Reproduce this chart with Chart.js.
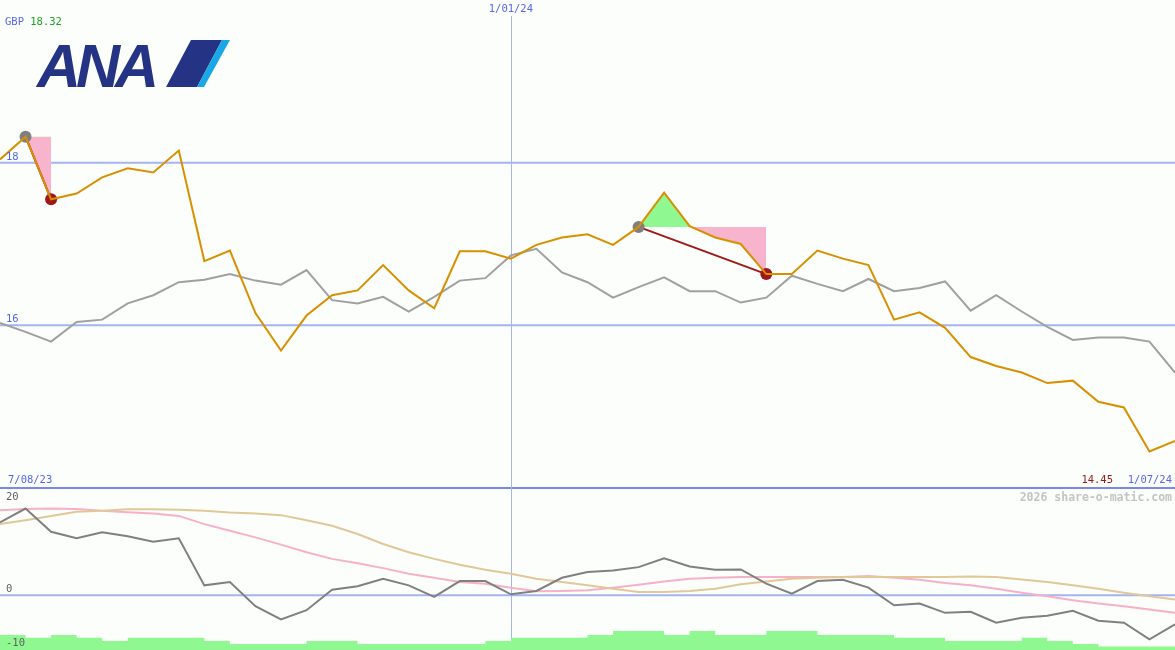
<!DOCTYPE html>
<html>
<head>
<meta charset="utf-8">
<title>ANA</title>
<script src="https://cdn.jsdelivr.net/npm/chart.js@4.4.1/dist/chart.umd.min.js"></script>
<style>
  html, body { margin: 0; padding: 0; background: #fbfefb; }
  #wrap { position: relative; width: 1175px; height: 650px; }
</style>
</head>
<body>
<div id="wrap"><canvas id="chart" width="1175" height="650"></canvas></div>
<script>
// weekly closes, GBP
const dateLabels = ['7/08/23', '14/08/23', '21/08/23', '28/08/23', '4/09/23', '11/09/23', '18/09/23', '25/09/23',
  '2/10/23', '9/10/23', '16/10/23', '23/10/23', '30/10/23', '6/11/23', '13/11/23', '20/11/23', '27/11/23',
  '4/12/23', '11/12/23', '18/12/23', '1/01/24', '8/01/24', '15/01/24', '22/01/24', '29/01/24', '5/02/24',
  '12/02/24', '19/02/24', '26/02/24', '4/03/24', '11/03/24', '18/03/24', '25/03/24', '1/04/24', '8/04/24',
  '15/04/24', '22/04/24', '29/04/24', '6/05/24', '13/05/24', '20/05/24', '27/05/24', '3/06/24', '10/06/24',
  '17/06/24', '24/06/24', '1/07/24'];

const prices = [18.04, 18.32, 17.55, 17.62, 17.82, 17.93, 17.88, 18.15, 16.79, 16.92,
  16.15, 15.69, 16.12, 16.37, 16.43, 16.74, 16.43, 16.21, 16.91, 16.91,
  16.82, 16.99, 17.08, 17.12, 16.99, 17.21, 17.63, 17.22, 17.08, 17.00,
  16.63, 16.63, 16.92, 16.82, 16.74, 16.07, 16.16, 15.97, 15.61, 15.50,
  15.42, 15.29, 15.32, 15.06, 14.99, 14.45, 14.58];

const indexLine = [16.03, 15.92, 15.80, 16.04, 16.07, 16.27, 16.37, 16.53, 16.56, 16.63,
  16.55, 16.50, 16.68, 16.31, 16.27, 16.35, 16.17, 16.35, 16.55, 16.58,
  16.86, 16.94, 16.65, 16.53, 16.34, 16.47, 16.59, 16.42, 16.42, 16.28,
  16.34, 16.61, 16.51, 16.42, 16.57, 16.42, 16.46, 16.54, 16.18, 16.37,
  16.17, 15.98, 15.82, 15.85, 15.85, 15.80, 15.42];

const momentum = [13.58, 16.17, 11.85, 10.62, 11.73, 10.99, 10.0, 10.62, 1.85, 2.47,
  -2.04, -4.5, -2.78, 1.05, 1.67, 3.09, 1.85, -0.31, 2.65, 2.65,
  0.19, 0.8, 3.27, 4.32, 4.63, 5.25, 6.91, 5.37, 4.75, 4.81,
  2.16, 0.31, 2.65, 2.9, 1.42, -1.85, -1.54, -3.27, -3.09, -5.12,
  -4.2, -3.83, -2.9, -4.75, -5.12, -8.2, -5.43];

const momentumAvgShort = [15.87, 16.1, 16.2, 16.1, 15.74, 15.5, 15.25, 14.8, 13.27, 12.04,
  10.8, 9.44, 8.02, 6.79, 5.99, 5.06, 4.0, 3.27, 2.47, 2.16,
  1.42, 0.74, 0.8, 0.93, 1.42, 1.98, 2.59, 3.09, 3.27, 3.4,
  3.4, 3.4, 3.4, 3.4, 3.58, 3.27, 2.9, 2.28, 1.85, 1.23,
  0.49, -0.19, -0.93, -1.54, -2.04, -2.65, -3.27];

const momentumAvgLong = [13.27, 14.0, 14.8, 15.55, 15.74, 16.05, 16.05, 15.93, 15.74, 15.43,
  15.25, 14.94, 14.0, 12.96, 11.42, 9.57, 8.02, 6.79, 5.68, 4.75,
  4.0, 3.09, 2.47, 1.85, 1.23, 0.62, 0.62, 0.8, 1.23, 2.04,
  2.59, 3.09, 3.27, 3.4, 3.4, 3.4, 3.4, 3.4, 3.52, 3.4,
  2.96, 2.47, 1.85, 1.23, 0.49, -0.19, -0.8];

// volume strip, drawn up from the bottom of the lower panel
const volume = [-7.4, -7.4, -7.9, -7.4, -7.9, -8.5, -7.9, -7.9, -7.9, -8.5,
  -9.07, -9.07, -9.07, -8.5, -8.5, -9.07, -9.07, -9.07, -9.07, -9.07,
  -8.5, -7.9, -7.9, -7.9, -7.4, -6.67, -6.67, -7.4, -6.67, -7.4,
  -7.4, -6.67, -6.67, -7.4, -7.4, -7.4, -7.9, -7.9, -8.5, -8.5,
  -8.5, -7.9, -8.5, -9.07, -9.57, -9.57, -9.57];

const priceTicks = [18, 16];
const momentumTicks = [20, 0, -10];
const markedDates = ['1/01/24'];
const signalStarts = [1, 25];
const signalEnds = [2, 30];

const FONT = '"DejaVu Sans Mono", monospace';
const BLUE = '#5566ee';
const DARKRED = '#a01818';

const onlyAt = (idx, src) => src.map((v, i) => (idx.includes(i) ? v : null));
const between = (a, b, src) => src.map((v, i) => (i >= a && i <= b ? v : null));

const datasets = [
  { data: prices, yAxisID: 'y', borderColor: '#d89000', borderWidth: 2, pointRadius: 0, order: 0 },
  { data: indexLine, yAxisID: 'y', borderColor: '#a0a0a0', borderWidth: 2, pointRadius: 0, order: 9 },
  { data: onlyAt(signalStarts, prices), yAxisID: 'y', showLine: false, pointRadius: 6,
    pointBackgroundColor: '#808080', pointBorderWidth: 0, order: 1 },
  { data: onlyAt(signalEnds, prices), yAxisID: 'y', showLine: false, pointRadius: 6,
    pointBackgroundColor: DARKRED, pointBorderWidth: 0, order: 1 },
];

signalStarts.forEach((s, k) => {
  const e = signalEnds[k];
  const baseIndex = datasets.length;
  datasets.push({ data: between(s, e, prices.map(() => prices[s])), yAxisID: 'y',
    borderColor: 'transparent', borderWidth: 0, pointRadius: 0, order: 5 });
  datasets.push({ data: between(s, e, prices), yAxisID: 'y', borderColor: 'transparent', borderWidth: 0,
    pointRadius: 0, fill: { target: baseIndex, above: '#90f890', below: '#f8b4cc' }, order: 5 });
  datasets.push({ data: onlyAt([s, e], prices), yAxisID: 'y', spanGaps: true, borderColor: DARKRED,
    borderWidth: 2, pointRadius: 0, order: 2 });
});

datasets.push(
  { data: momentum, yAxisID: 'y2', borderColor: '#808080', borderWidth: 2, pointRadius: 0, order: 0 },
  { data: momentumAvgShort, yAxisID: 'y2', borderColor: '#f8b0c8', borderWidth: 2, pointRadius: 0, order: 2 },
  { data: momentumAvgLong, yAxisID: 'y2', borderColor: '#e0c898', borderWidth: 2, pointRadius: 0, order: 1 },
  { data: volume, yAxisID: 'y2', stepped: 'after', borderColor: 'transparent', borderWidth: 0,
    backgroundColor: '#90f890', fill: 'start', pointRadius: 0, order: 8 }
);

function hline(ctx, area, py) {
  ctx.beginPath();
  ctx.moveTo(area.left, py);
  ctx.lineTo(area.right, py);
  ctx.stroke();
}

const decor = {
  id: 'decor',
  beforeDatasetsDraw(chart) {
    const { ctx, chartArea, scales: { x, y, y2 } } = chart;
    ctx.save();
    ctx.lineWidth = 2;
    ctx.strokeStyle = '#a4b4f0';
    priceTicks.forEach((v) => hline(ctx, chartArea, y.getPixelForValue(v)));
    hline(ctx, chartArea, y2.getPixelForValue(0));
    ctx.strokeStyle = '#7888ee';
    hline(ctx, chartArea, y.getPixelForValue(y.min));
    ctx.lineWidth = 1;
    ctx.strokeStyle = '#a8b4ee';
    markedDates.forEach((d) => {
      const px = Math.round(x.getPixelForValue(dateLabels.indexOf(d))) + 0.5;
      ctx.beginPath();
      ctx.moveTo(px, 16);
      ctx.lineTo(px, chartArea.bottom);
      ctx.stroke();
    });
    ctx.restore();
  },
  afterDraw(chart) {
    const { ctx, chartArea, scales: { x, y, y2 } } = chart;
    ctx.save();
    ctx.font = '10.5px ' + FONT;
    ctx.textBaseline = 'alphabetic';

    // header
    ctx.textAlign = 'left';
    ctx.fillStyle = BLUE;
    ctx.fillText('GBP ', 5, 25);
    ctx.fillStyle = '#20a020';
    ctx.fillText(Math.max(...prices).toFixed(2), 5 + ctx.measureText('GBP ').width, 25);

    // price axis labels
    ctx.fillStyle = BLUE;
    priceTicks.forEach((v) => ctx.fillText(String(v), 6, y.getPixelForValue(v) - 3));

    // momentum axis labels
    ctx.fillStyle = '#606060';
    momentumTicks.forEach((v) => {
      const py = Math.max(y2.getPixelForValue(v) - 3, y2.top + 12);
      ctx.fillText(String(v), 6, Math.min(py, chartArea.bottom - 4));
    });

    // dates
    const base = y.getPixelForValue(y.min) - 5;
    ctx.fillStyle = BLUE;
    ctx.fillText(dateLabels[0], 8, base);
    ctx.textAlign = 'right';
    ctx.fillText(dateLabels[dateLabels.length - 1], chartArea.right - 3, base);
    ctx.fillStyle = DARKRED;
    ctx.fillText(Math.min(...prices).toFixed(2), chartArea.right - 62, base);
    ctx.textAlign = 'center';
    ctx.fillStyle = BLUE;
    markedDates.forEach((d) => ctx.fillText(d, x.getPixelForValue(dateLabels.indexOf(d)), 12));

    // watermark
    ctx.textAlign = 'right';
    ctx.font = 'bold 11.5px ' + FONT;
    ctx.fillStyle = '#c4c4c4';
    ctx.fillText('2026 share-o-matic.com', chartArea.right - 3, y2.top + 13);

    // logo
    ctx.textAlign = 'left';
    ctx.font = 'italic bold 61px "Liberation Sans", Arial, sans-serif';
    if ('letterSpacing' in ctx) ctx.letterSpacing = '-5px';
    ctx.fillStyle = '#253385';
    ctx.fillText('ANA', 37, 87);
    ctx.beginPath();
    ctx.moveTo(166, 87); ctx.lineTo(191, 40); ctx.lineTo(222, 40); ctx.lineTo(197, 87);
    ctx.closePath();
    ctx.fill();
    ctx.fillStyle = '#18a8e8';
    ctx.beginPath();
    ctx.moveTo(197, 87); ctx.lineTo(222, 40); ctx.lineTo(230, 40); ctx.lineTo(204, 87);
    ctx.closePath();
    ctx.fill();
    ctx.restore();
  },
};

new Chart(document.getElementById('chart'), {
  type: 'line',
  data: { labels: dateLabels, datasets },
  options: {
    responsive: false,
    animation: false,
    devicePixelRatio: 1,
    layout: { padding: 0, autoPadding: false },
    plugins: { legend: { display: false }, tooltip: { enabled: false } },
    elements: { line: { tension: 0 } },
    scales: {
      x: { type: 'category', display: false, offset: false },
      y: { position: 'left', stack: 'panels', stackWeight: 488, weight: 2, min: 14, max: 20, display: false },
      y2: { position: 'left', stack: 'panels', stackWeight: 162, weight: 1, min: -10.2, max: 20, display: false },
    },
  },
  plugins: [decor],
});
</script>
</body>
</html>
